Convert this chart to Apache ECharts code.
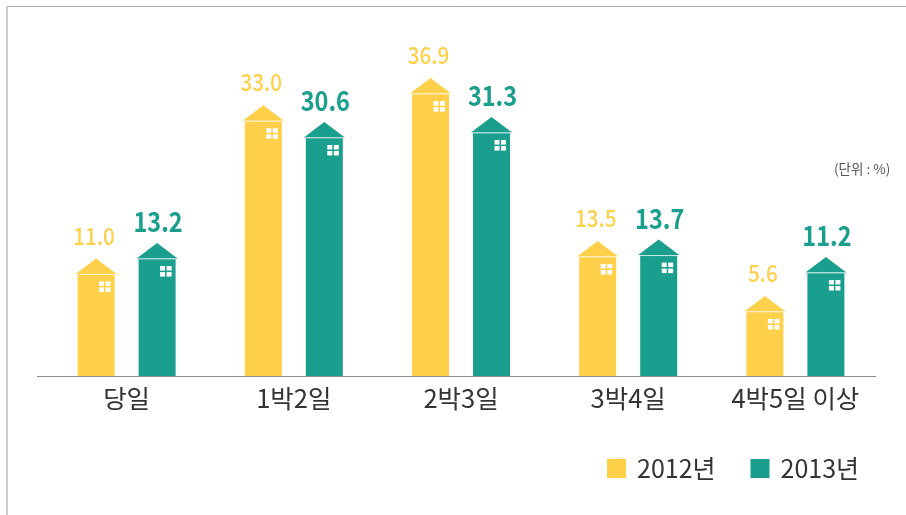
<!DOCTYPE html>
<html><head><meta charset="utf-8">
<style>html,body{margin:0;padding:0;background:#fff}#c{width:906px;height:515px}</style>
<script src="https://cdn.jsdelivr.net/npm/echarts@6/dist/echarts.min.js"></script>
</head><body><div id="c"></div>
<script>
const categories = ['당일', '1박2일', '2박3일', '3박4일', '4박5일 이상'];
const seriesNames = ['2012년', '2013년'];
const values2012 = [11.0, 33.0, 36.9, 13.5, 5.6];
const values2013 = [13.2, 30.6, 31.3, 13.7, 11.2];
const unitText = '(단위 : %)';
const FONT = '"Noto Sans CJK KR","Noto Sans",sans-serif';
const AXIS_MIN = -3.6, AXIS_MAX = 46.4;

function house(color, side, fontSize, fontWeight, labelGap, labelDx, labelScale) {
  return function (params, api) {
    const base = api.coord([api.value(0), AXIS_MIN]);
    const top = api.coord([api.value(0), api.value(1)]);
    const cx = base[0] + side * 30.5;
    const w = 37, roofW = 41, roofH = 16;
    const y0 = top[1], yb = base[1];
    const pane = 5, gap = 1.5;
    const wx = cx + 3, wy = y0 + 7;
    const panes = [];
    [0, 1].forEach(i => [0, 1].forEach(j => panes.push({
      type: 'rect',
      shape: { x: wx + i * (pane + gap), y: wy + j * (pane - 0.5 + gap), width: pane, height: pane - 0.5 },
      style: { fill: '#fff' }
    })));
    return {
      type: 'group',
      children: [
        { type: 'rect', shape: { x: cx - w / 2, y: y0, width: w, height: yb - y0 }, style: { fill: color } },
        { type: 'polygon', shape: { points: [[cx - roofW / 2, y0 - 0.5], [cx, y0 - roofH], [cx + roofW / 2, y0 - 0.5]] }, style: { fill: color } },
        { type: 'line', shape: { x1: cx - w / 2, y1: y0, x2: cx + w / 2, y2: y0 }, style: { stroke: 'rgba(255,255,255,0.55)', lineWidth: 1 } },
        ...panes,
        { type: 'text', x: cx + labelDx, y: y0 - roofH - labelGap, scaleX: labelScale, scaleY: 1, style: {
            text: api.value(1).toFixed(1), fill: color, font: fontWeight + ' ' + fontSize + 'px ' + FONT,
            textAlign: 'center', textVerticalAlign: 'middle' } }
      ]
    };
  };
}

const chart = echarts.init(document.getElementById('c'), null, { renderer: 'canvas' });
chart.setOption({
  animation: false,
  backgroundColor: '#fff',
  grid: { left: 43, right: 27, top: 28, bottom: 139, containLabel: false },
  xAxis: {
    type: 'category', data: categories, boundaryGap: true,
    axisLine: { show: false }, axisTick: { show: false },
    axisLabel: { color: '#333', fontSize: 25.5, fontFamily: FONT, margin: 10, interval: 0 }
  },
  yAxis: { type: 'value', min: AXIS_MIN, max: AXIS_MAX, show: false, splitLine: { show: false } },
  legend: {
    left: 607, top: 456, padding: 0, itemWidth: 19, itemHeight: 19, itemGap: 35, icon: 'rect',
    data: seriesNames,
    textStyle: { color: '#333', fontSize: 25, fontFamily: FONT, padding: [0, 0, 0, 6] }
  },
  graphic: [
    { type: 'line', shape: { x1: 37, y1: 376.5, x2: 876, y2: 376.5 }, style: { stroke: '#8c8c8c', lineWidth: 1 } },
    { type: 'line', shape: { x1: 7, y1: 6.5, x2: 906, y2: 6.5 }, style: { stroke: '#aaaaaa', lineWidth: 1 } },
    { type: 'line', shape: { x1: 7, y1: 6, x2: 7, y2: 515 }, style: { stroke: '#cccccc', lineWidth: 2 } },
    { type: 'text', x: 834, y: 169, style: { text: unitText, fill: '#555', font: '13.5px ' + FONT, textVerticalAlign: 'middle' } }
  ],
  series: [
    { name: seriesNames[0], type: 'custom', itemStyle: { color: '#FFD04A' }, clip: false,
      encode: { x: 0, y: 1 }, data: values2012.map((v, i) => [i, v]),
      renderItem: house('#FFD04A', -1, 23, 500, 22.5, -2, 0.9) },
    { name: seriesNames[1], type: 'custom', itemStyle: { color: '#1A9E8E' }, clip: false,
      encode: { x: 0, y: 1 }, data: values2013.map((v, i) => [i, v]),
      renderItem: house('#1A9E8E', 1, 27, 600, 21, 1, 0.87) }
  ]
});
</script></body></html>
